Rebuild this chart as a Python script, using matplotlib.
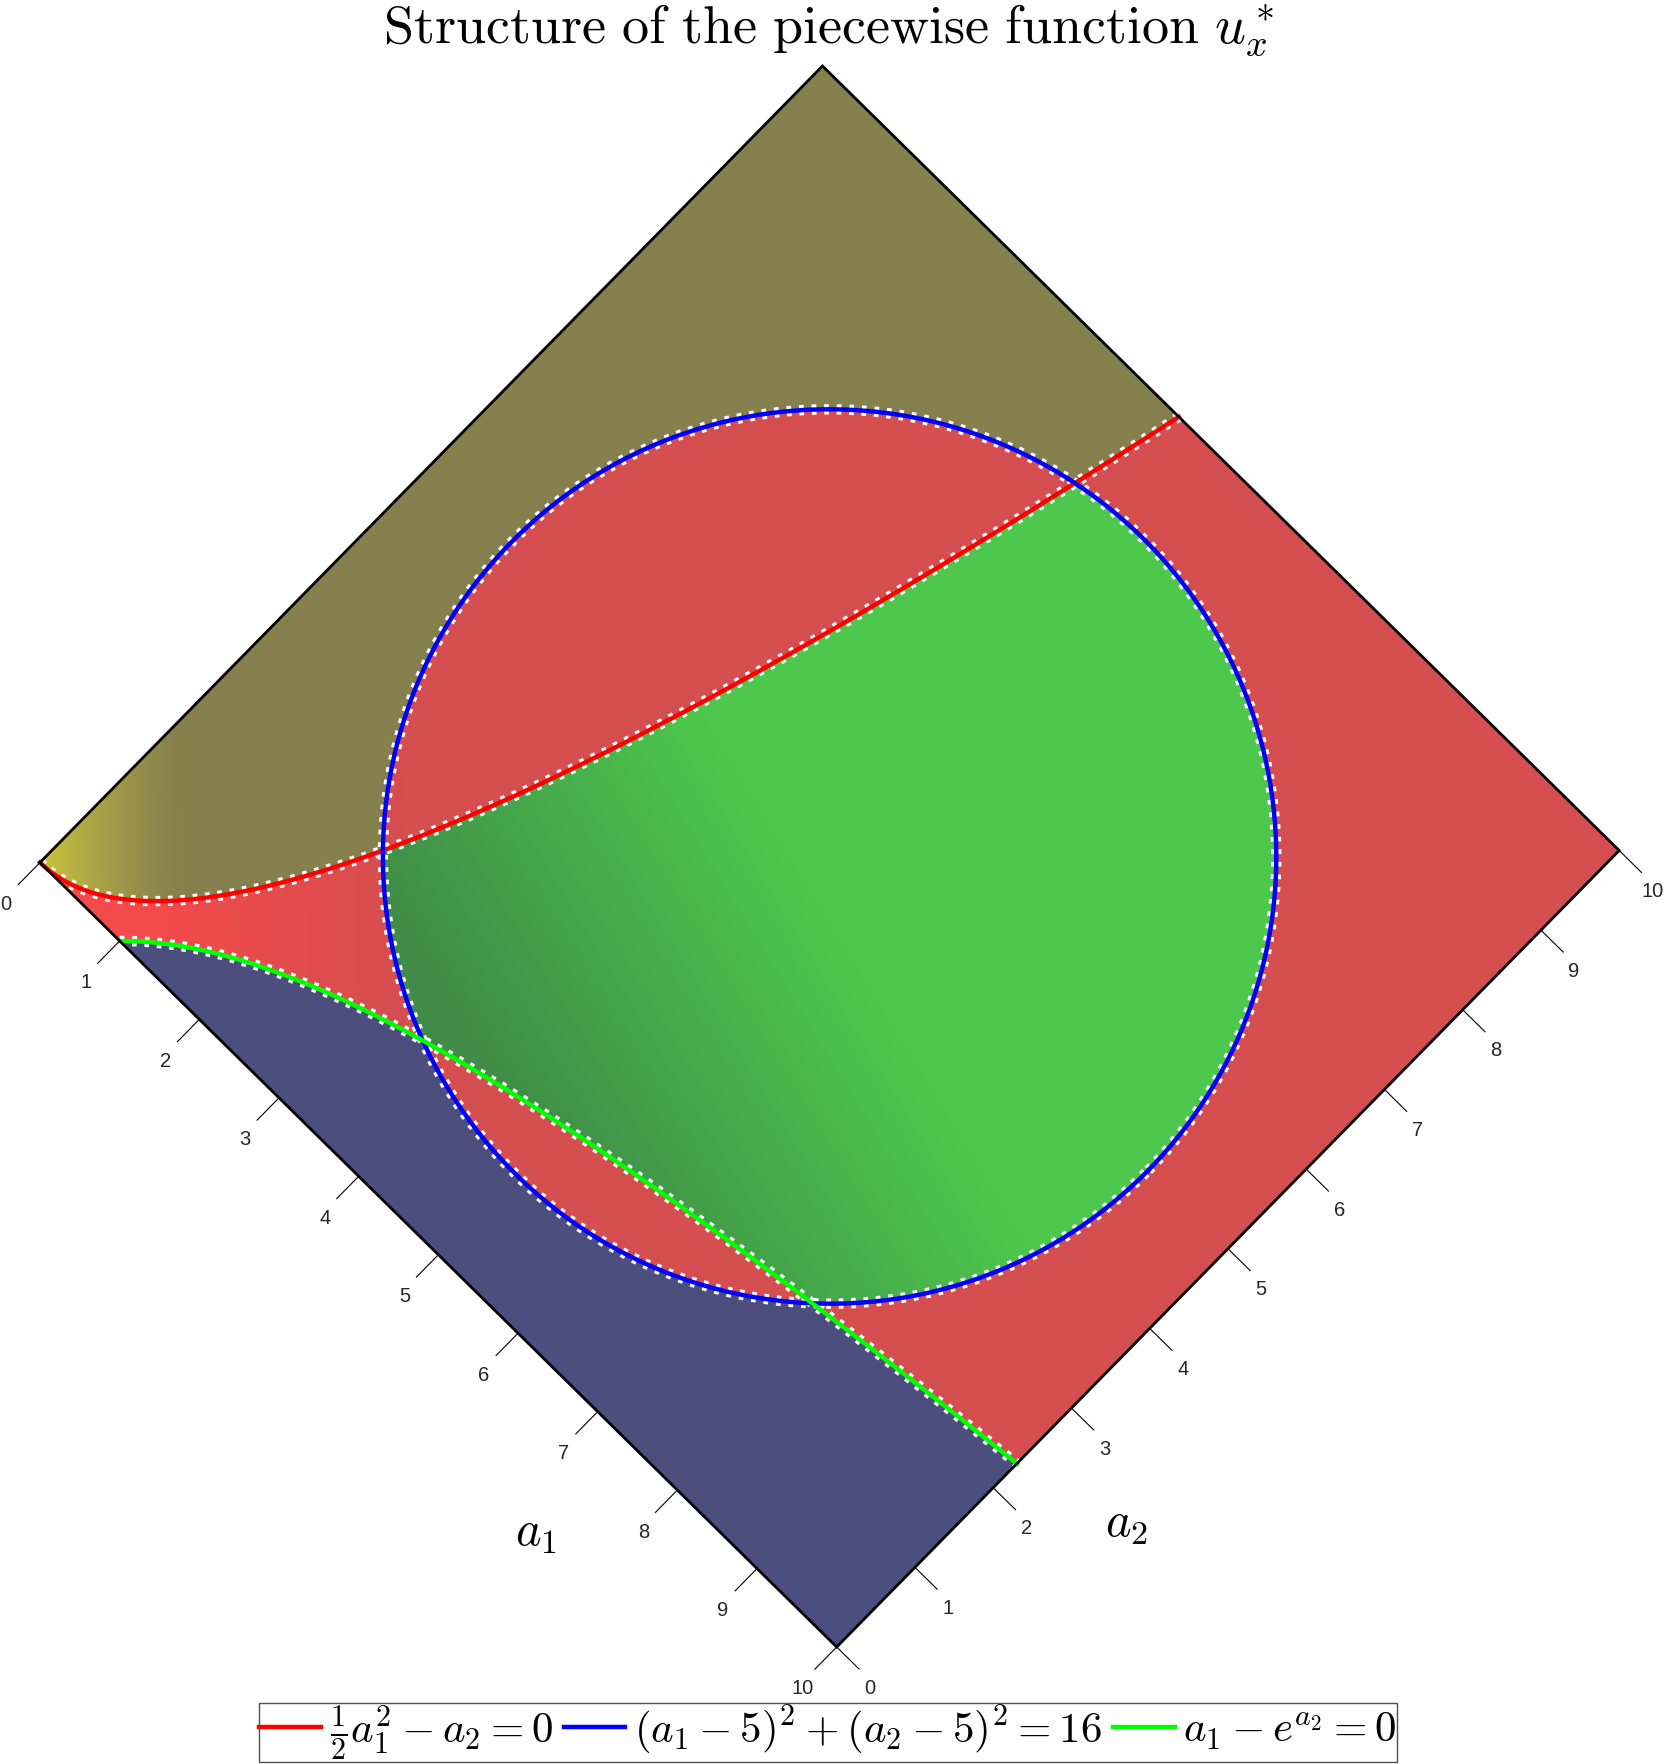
import numpy as np
import matplotlib
matplotlib.use("Agg")
import matplotlib.pyplot as plt
from matplotlib.transforms import Affine2D
from matplotlib.lines import Line2D

plt.rcParams['mathtext.fontset'] = 'cm'

# axis ticks
a1_ticks = [0, 1, 2, 3, 4, 5, 6, 7, 8, 9, 10]
a2_ticks = [0, 1, 2, 3, 4, 5, 6, 7, 8, 9, 10]

# boundary curves: 1/2 a1^2 - a2 = 0, (a1-5)^2 + (a2-5)^2 = 16, a1 - e^a2 = 0
half_coef = 0.5
circ_center = (5.0, 5.0)
circ_radius = 4.0

legend_labels = [r'$\frac{1}{2}a_1^2-a_2=0$',
                 r'$(a_1-5)^2+(a_2-5)^2=16$',
                 r'$a_1-e^{a_2}=0$']
line_colors = ['#ff0000', '#0000ff', '#00ff00']

# region colours
olive = np.array([133, 128, 77]) / 255
yellow = np.array([205, 196, 62]) / 255
red_base = np.array([213, 78, 80]) / 255
red_bright = np.array([245, 74, 74]) / 255
green_dark = np.array([64, 140, 72]) / 255
green_bright = np.array([77, 200, 77]) / 255
navy = np.array([76, 78, 126]) / 255

fig = plt.figure(figsize=(16.71, 17.65), dpi=100)
ax = fig.add_axes([0, 0, 1, 1])
ax.set_xlim(0, 1671)
ax.set_ylim(1765, 0)
ax.axis('off')

# rotated top view: (a1, a2) -> picture
L = np.array([40.0, 863.5])
B = np.array([836.7, 1648.0])
T = np.array([822.5, 67.0])
ea1 = (B - L) / 10
ea2 = (T - L) / 10
tr = Affine2D(np.array([[ea1[0], ea2[0], L[0]],
                        [ea1[1], ea2[1], L[1]],
                        [0, 0, 1]])) + ax.transData

# surface colours
n = 1200
g = np.linspace(0, 10, n)
A1, A2 = np.meshgrid(g, g)
inside = (A1 - circ_center[0])**2 + (A2 - circ_center[1])**2 < circ_radius**2
above_red = A2 > half_coef * A1**2
above_green = A1 < np.exp(A2)
s = A1 + A2

w = np.clip(1 - s / 1.9, 0, 1)[..., None]**1.4
col_olive = olive * (1 - w) + yellow * w
w = np.clip((4.6 - s) / 3.2, 0, 1)[..., None]
col_red = red_base * (1 - w) + red_bright * w
w = np.clip((0.4 * A1 + 1.6 * A2 - 4) / 5.5, 0, 1)[..., None]
col_green = green_dark * (1 - w) + green_bright * w

m_olive = ~inside & above_red
m_green = inside & ~above_red & above_green
m_navy = ~inside & ~above_green
img = np.ones((n, n, 4))
img[..., :3] = col_red
img[m_olive, :3] = col_olive[m_olive]
img[m_green, :3] = col_green[m_green]
img[m_navy, :3] = navy

ax.imshow(img, origin='lower', extent=(0, 10, 0, 10), transform=tr,
          interpolation='antialiased', zorder=1)

# frame of the square
ax.plot([0, 10, 10, 0, 0], [0, 0, 10, 10, 0], color='black', lw=2.0,
        transform=tr, zorder=5, solid_joinstyle='miter')


def boundary(x, y, color):
    ax.plot(x, y, color='white', lw=7.5, dashes=(0.45, 0.75), transform=tr,
            zorder=3, solid_capstyle='butt')
    ax.plot(x, y, color=color, lw=3.2, transform=tr, zorder=4)


r1 = np.linspace(0, np.sqrt(10 / half_coef), 400)
boundary(r1, half_coef * r1**2, line_colors[0])
th = np.linspace(0, 2 * np.pi, 800)
boundary(circ_center[0] + circ_radius * np.cos(th),
         circ_center[1] + circ_radius * np.sin(th), line_colors[1])
g2 = np.linspace(0, np.log(10), 400)
boundary(np.exp(g2), g2, line_colors[2])

# ticks
tick_len = 0.28
for v in a1_ticks:
    ax.plot([v, v], [0, -tick_len], color='black', lw=0.8, transform=tr, zorder=5)
    ax.annotate(str(v), (v, 0), xycoords=tr, xytext=(-34, -41),
                textcoords='offset pixels', ha='center', va='center',
                fontsize=14.5, family='Liberation Sans', color='#262626')
for v in a2_ticks:
    ax.plot([10, 10 + tick_len], [v, v], color='black', lw=0.8, transform=tr, zorder=5)
    ax.annotate(str(v), (10, v), xycoords=tr, xytext=(33, -40),
                textcoords='offset pixels', ha='center', va='center',
                fontsize=14.5, family='Liberation Sans', color='#262626')

ax.text(7.35, -1.15, r'$a_1$', transform=tr, fontsize=35, ha='center', va='center')
ax.text(11.07, 2.62, r'$a_2$', transform=tr, fontsize=35, ha='center', va='center')

ax.text(828, 43, r'$\mathrm{Structure\ of\ the\ piecewise\ function}\ u_x^*$',
        fontsize=39, ha='center', va='baseline')

handles = [Line2D([], [], color=c, lw=3.2) for c in line_colors]
fig.legend(handles, legend_labels, loc='lower center', bbox_to_anchor=(0.4955, 0.001),
           ncol=3, fontsize=31, frameon=True, fancybox=False, edgecolor='#262626',
           handlelength=1.43, handletextpad=0.2, columnspacing=0.26,
           borderpad=0.0, borderaxespad=0.0)

fig.savefig('out.png', dpi=100, facecolor='white')
